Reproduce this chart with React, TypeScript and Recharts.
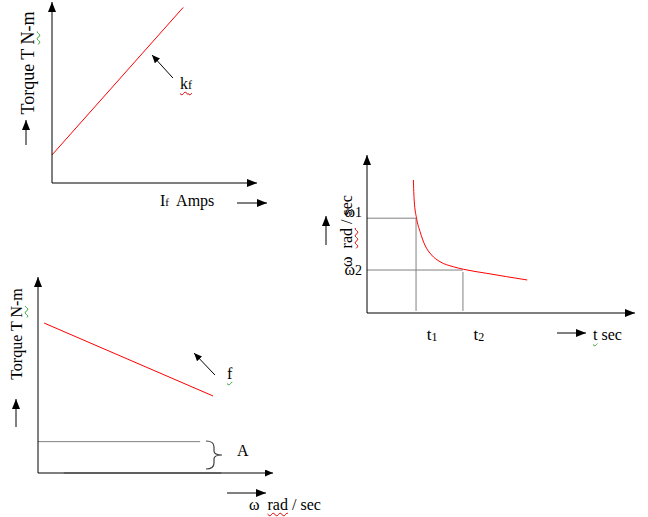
import { LineChart, Line, XAxis, YAxis, ReferenceLine } from 'recharts';

// Torque vs field current
const ifAmps = [0, 6.4];
const torqueIf = [1.55, 9.7];

// Speed vs time (retardation curve)
const tSec = [1.73, 1.76, 1.85, 1.98, 2.16, 2.41, 2.72, 3.22, 3.59, 4.47, 5.21, 5.98];
const omega = [8.42, 7.15, 5.99, 5.15, 4.3, 3.67, 3.25, 2.93, 2.77, 2.51, 2.3, 2.09];
const timeTicks = [1.83, 3.58];
const timeTickLabels = ['t', 't'];
const timeTickSubs = ['1', '2'];
const omegaTicks = [6.0, 2.72];
const omegaTickLabels = ['ω', 'ω'];
const omegaTickSubs = ['1', '2'];

// Torque vs speed (friction)
const speed = [0.26, 7.45];
const torqueW = [7.65, 3.93];
const frictionLevel = 1.6;
const frictionEnd = 6.9;

const FONT = '"Liberation Serif", "Times New Roman", serif';
const RED = '#ff0000';
const GREY = '#808080';

const axisStyle = { stroke: '#000', strokeWidth: 1 };

const chart1 = ifAmps.map((x, i) => ({ x, y: torqueIf[i] }));
const chart2 = tSec.map((x, i) => ({ x, y: omega[i] }));
const chart3 = speed.map((x, i) => ({ x, y: torqueW[i] }));

function TimeTick(props: any) {
  const { x, y, payload } = props;
  const i = timeTicks.indexOf(payload.value);
  return (
    <text x={x + 16} y={y + 27} textAnchor="middle" fontFamily={FONT} fontSize={17} fill="#000">
      <tspan>{timeTickLabels[i]}</tspan>
      <tspan fontSize={12} dy={1}>{timeTickSubs[i]}</tspan>
    </text>
  );
}

function OmegaTick(props: any) {
  const { x, y, payload } = props;
  const i = omegaTicks.indexOf(payload.value);
  const dy = i === 0 ? -1 : 5;
  return (
    <text x={x - 5} y={y + dy} textAnchor="end" fontFamily={FONT} fontSize={16} fill="#000">
      <tspan>{omegaTickLabels[i]}</tspan>
      <tspan fontSize={14}>{omegaTickSubs[i]}</tspan>
    </text>
  );
}

const txt = (left: number, top: number, size = 16): React.CSSProperties => ({
  position: 'absolute',
  left,
  top,
  fontFamily: FONT,
  fontSize: size,
  whiteSpace: 'nowrap',
  lineHeight: 1,
  color: '#000',
});

const rotated = (cx: number, cy: number, size = 16): React.CSSProperties => ({
  ...txt(cx, cy, size),
  transform: 'translate(-50%, -50%) rotate(-90deg)',
});

const redWave: React.CSSProperties = {
  textDecoration: 'underline wavy #e00000',
  textDecorationThickness: 1,
  textDecorationSkipInk: 'none',
  textUnderlineOffset: 2,
};
const greenWave: React.CSSProperties = {
  textDecoration: 'underline wavy #33a033',
  textDecorationThickness: 1,
  textDecorationSkipInk: 'none',
  textUnderlineOffset: 2,
};

export default function App() {
  return (
    <div style={{ position: 'absolute', left: 0, top: 0, width: 648, height: 517, background: '#fff' }}>
      <svg width={0} height={0} style={{ position: 'absolute' }}>
        <defs>
          <marker id="ah" markerUnits="userSpaceOnUse" markerWidth={10} markerHeight={8} refX={10} refY={4} orient="auto-start-reverse">
            <path d="M0,0 L10,4 L0,8 z" fill="#000" />
          </marker>
          <marker id="ahs" markerUnits="userSpaceOnUse" markerWidth={8} markerHeight={7} refX={8} refY={3.5} orient="auto-start-reverse">
            <path d="M0,0 L8,3.5 L0,7 z" fill="#000" />
          </marker>
        </defs>
      </svg>

      {/* Torque vs If: axes at x=52, y=183 */}
      <div style={{ position: 'absolute', left: 0, top: 0 }}>
        <LineChart width={280} height={200} data={chart1} margin={{ top: 2, left: 51, right: 23, bottom: 16 }}>
          <XAxis dataKey="x" type="number" domain={[0, 10]} height={1} tick={false} tickLine={false}
            axisLine={{ ...axisStyle, markerEnd: 'url(#ah)' }} />
          <YAxis type="number" domain={[0, 10]} width={1} tick={false} tickLine={false}
            axisLine={{ ...axisStyle, markerStart: 'url(#ah)' }} />
          <Line dataKey="y" type="linear" stroke={RED} strokeWidth={1} dot={false} isAnimationActive={false} />
          <ReferenceLine segment={[{ x: 5.9, y: 5.8 }, { x: 4.88, y: 7.07 }]} stroke="#000" markerEnd="url(#ahs)" />
        </LineChart>
      </div>

      {/* Speed vs time: axes at x=367, y=313 */}
      <div style={{ position: 'absolute', left: 320, top: 150 }}>
        <LineChart width={328} height={200} data={chart2} margin={{ top: 5, left: 46, right: 13, bottom: 36 }}>
          <XAxis dataKey="x" type="number" domain={[0, 10]} height={1} ticks={timeTicks} tick={<TimeTick />}
            tickLine={false} tickSize={0} tickMargin={0} interval={0}
            axisLine={{ ...axisStyle, markerEnd: 'url(#ah)' }} />
          <YAxis type="number" domain={[0, 10]} width={1} ticks={omegaTicks} tick={<OmegaTick />}
            tickLine={false} tickSize={0} tickMargin={0} interval={0}
            axisLine={{ ...axisStyle, markerStart: 'url(#ah)' }} />
          <ReferenceLine segment={[{ x: 0, y: omegaTicks[0] }, { x: timeTicks[0], y: omegaTicks[0] }]} stroke={GREY} />
          <ReferenceLine segment={[{ x: timeTicks[0], y: omegaTicks[0] }, { x: timeTicks[0], y: 0.13 }]} stroke={GREY} />
          <ReferenceLine segment={[{ x: 0, y: omegaTicks[1] }, { x: timeTicks[1], y: omegaTicks[1] }]} stroke={GREY} />
          <ReferenceLine segment={[{ x: timeTicks[1], y: omegaTicks[1] - 0.12 }, { x: timeTicks[1], y: 0.13 }]} stroke={GREY} />
          <Line dataKey="y" type="monotone" stroke={RED} strokeWidth={1} dot={false} isAnimationActive={false} />
        </LineChart>
      </div>

      {/* Torque vs speed: axes at x=38, y=473 */}
      <div style={{ position: 'absolute', left: 0, top: 270 }}>
        <LineChart width={290} height={220} data={chart3} margin={{ top: 7, left: 37, right: 17, bottom: 16 }}>
          <XAxis dataKey="x" type="number" domain={[0, 10]} height={1} tick={false} tickLine={false}
            axisLine={{ ...axisStyle, markerEnd: 'url(#ahs)' }} />
          <YAxis type="number" domain={[0, 10]} width={1} tick={false} tickLine={false}
            axisLine={{ ...axisStyle, markerStart: 'url(#ah)' }} />
          <ReferenceLine segment={[{ x: 0, y: frictionLevel }, { x: frictionEnd, y: frictionLevel }]} stroke={GREY} />
          <ReferenceLine segment={[{ x: 1.1, y: 0 }, { x: 7.8, y: 0 }]} stroke={GREY} />
          <Line dataKey="y" type="linear" stroke={RED} strokeWidth={1} dot={false} isAnimationActive={false} />
          <ReferenceLine segment={[{ x: 7.53, y: 5.0 }, { x: 6.64, y: 6.12 }]} stroke="#000" markerEnd="url(#ahs)" />
        </LineChart>
      </div>

      {/* decorative direction arrows and brace */}
      <svg width={648} height={517} style={{ position: 'absolute', left: 0, top: 0, pointerEvents: 'none' }}>
        <line x1={26} y1={145} x2={26} y2={120} stroke="#000" markerEnd="url(#ah)" />
        <line x1={237} y1={203} x2={267} y2={203} stroke="#000" markerEnd="url(#ah)" />
        <line x1={326} y1={245} x2={326} y2={216} stroke="#000" markerEnd="url(#ah)" />
        <line x1={557} y1={333} x2={586} y2={333} stroke="#000" markerEnd="url(#ah)" />
        <line x1={16} y1={427} x2={16} y2={399} stroke="#000" markerEnd="url(#ah)" />
        <line x1={227} y1={493} x2={266} y2={493} stroke="#000" markerEnd="url(#ah)" />
        <path d="M206,441 Q214,441 214,447 L214,451 Q214,455 222,455 Q214,455 214,459 L214,463 Q214,469 206,469"
          stroke="#404040" strokeWidth={1.2} fill="none" />
      </svg>

      {/* text */}
      <div style={rotated(28, 63, 18)}>
        Torque T <span style={greenWave}>N</span>-m
      </div>
      <div style={txt(160, 193)}>
        I<span style={{ fontSize: 11 }}>f</span>&nbsp; Amps
      </div>
      <div style={txt(180, 76)}>
        <span style={redWave}>k<span style={{ fontSize: 12 }}>f</span></span>
      </div>

      <div style={rotated(347, 231, 16)}>
        ω&nbsp; <span style={redWave}>rad</span> / sec
      </div>
      <div style={txt(593, 327)}>
        <span style={greenWave}>t</span> sec
      </div>

      <div style={rotated(17, 334, 16)}>
        Torque T <span style={greenWave}>N</span>-m
      </div>
      <div style={txt(227, 366)}>
        <span style={greenWave}>f</span>
      </div>
      <div style={txt(237, 443)}>A</div>
      <div style={txt(249, 497)}>
        ω&nbsp; <span style={redWave}>rad</span> / sec
      </div>
    </div>
  );
}
